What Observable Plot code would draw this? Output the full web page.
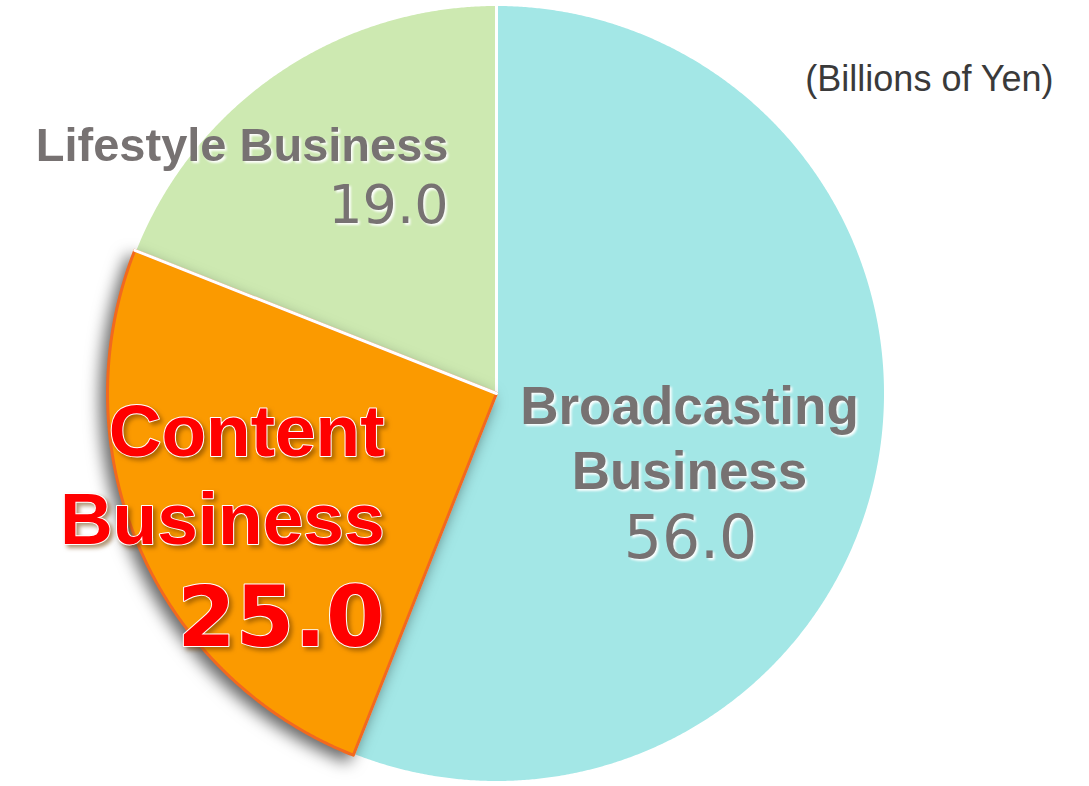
<!DOCTYPE html>
<html>
<head>
<meta charset="utf-8">
<script src="https://cdn.jsdelivr.net/npm/d3@7"></script>
<script src="https://cdn.jsdelivr.net/npm/@observablehq/plot@0.6"></script>
<style>
  html, body { margin: 0; padding: 0; background: #fff; }
  #chart svg { display: block; }
</style>
</head>
<body>
<div id="chart"></div>
<script>
// ---- data ----
const categories = ["Broadcasting Business", "Content Business", "Lifestyle Business"];
const values = [56.0, 25.0, 19.0];
const valueLabels = ["56.0", "25.0", "19.0"];
const unitNote = "(Billions of Yen)";
const colors = ["#a3e7e6", "#fb9a00", "#cde9b1"];

// ---- layout ----
const W = 1089, H = 786;
const cx = 496, cy = 393, R = 389;
const u = (px, py) => ({x: (px - cx) / R, y: (cy - py) / R});

const arcs = d3.pie().sort(null).value(d => d)(values);
const slices = arcs.map((a, i) => {
  const pts = [{x: 0, y: 0, k: categories[i]}];
  const n = Math.max(2, Math.ceil((a.endAngle - a.startAngle) / 0.005));
  for (let j = 0; j <= n; j++) {
    const t = a.startAngle + (a.endAngle - a.startAngle) * j / n;
    pts.push({x: Math.sin(t), y: Math.cos(t), k: categories[i]});
  }
  return pts;
});
const contentArc = arcs[1];
const sepLine = [{x: 0, y: 0}, {x: Math.sin(contentArc.endAngle), y: Math.cos(contentArc.endAngle)}];

const lifeLabel = [{...u(448, 160), t: "Lifestyle Business"}];
const lifeNum = [{...u(448, 222), t: valueLabels[2]}];
const bcLabels = [
  {...u(689, 423), t: "Broadcasting"},
  {...u(689, 488), t: "Business"}
];
const bcNum = [{...u(690, 557), t: valueLabels[0]}];
const redLabels = [
  {...u(384, 455), t: "Content"},
  {...u(384, 543), t: "Business"}
];
const redNum = [{...u(384, 645), t: valueLabels[1]}];
const note = [{...u(1053, 90), t: unitNote}];

const sans = "Liberation Sans, Arial, sans-serif";
const dj = "DejaVu Sans, sans-serif";
const gray = "#777272";

const plot = Plot.plot({
  width: W, height: H,
  margin: 0,
  x: {domain: [-1, 1], range: [cx - R, cx + R], axis: null},
  y: {domain: [-1, 1], range: [cy + R, cy - R], axis: null},
  marks: [
    Plot.line(slices[0], {x: "x", y: "y", curve: "linear-closed", fill: colors[0], stroke: "white", strokeWidth: 3, ariaDescription: "s-broadcast"}),
    Plot.line(slices[2], {x: "x", y: "y", curve: "linear-closed", fill: colors[2], stroke: "white", strokeWidth: 3, ariaDescription: "s-lifestyle"}),
    Plot.line(slices[1], {x: "x", y: "y", curve: "linear-closed", fill: colors[1], stroke: "#f2691f", strokeWidth: 3, strokeLinejoin: "round", ariaDescription: "s-content"}),
    Plot.line(sepLine, {x: "x", y: "y", stroke: "white", strokeWidth: 3}),
    Plot.text(lifeLabel, {x: "x", y: "y", text: "t", textAnchor: "end", lineAnchor: "bottom", fill: gray, fontSize: 47, fontWeight: "bold", fontFamily: sans, ariaDescription: "t-gray"}),
    Plot.text(lifeNum, {x: "x", y: "y", text: "t", textAnchor: "end", lineAnchor: "bottom", fill: gray, fontSize: 54, fontFamily: dj, ariaDescription: "t-gray"}),
    Plot.text(bcLabels, {x: "x", y: "y", text: "t", textAnchor: "middle", lineAnchor: "bottom", fill: gray, fontSize: 53, fontWeight: "bold", fontFamily: sans, ariaDescription: "t-gray"}),
    Plot.text(bcNum, {x: "x", y: "y", text: "t", textAnchor: "middle", lineAnchor: "bottom", fill: gray, fontSize: 60, fontFamily: dj, ariaDescription: "t-gray"}),
    Plot.text(redLabels, {x: "x", y: "y", text: "t", textAnchor: "end", lineAnchor: "bottom", fill: "#ff0000", stroke: "white", strokeWidth: 2, paintOrder: "stroke", fontSize: 73, fontWeight: "bold", fontFamily: sans, ariaDescription: "t-red"}),
    Plot.text(redNum, {x: "x", y: "y", text: "t", textAnchor: "end", lineAnchor: "bottom", fill: "#ff0000", stroke: "white", strokeWidth: 2, paintOrder: "stroke", fontSize: 84, fontWeight: "bold", fontFamily: dj, ariaDescription: "t-red"}),
    Plot.text(note, {x: "x", y: "y", text: "t", textAnchor: "end", lineAnchor: "bottom", fill: "#3a3a3a", fontSize: 36, fontFamily: sans})
  ]
});

const svg = d3.select(plot);
svg.selectAll('g[aria-description="s-content"]').style("filter", "drop-shadow(-6px 6px 8px rgba(0,0,0,0.6))");
svg.selectAll('g[aria-description="t-gray"]').style("filter", "drop-shadow(2px 2px 1px rgba(255,255,255,0.95))");
svg.selectAll('g[aria-description="t-red"]').style("filter", "drop-shadow(3px 3px 2px rgba(110,60,0,0.55))");

document.getElementById("chart").appendChild(plot);
</script>
</body>
</html>
